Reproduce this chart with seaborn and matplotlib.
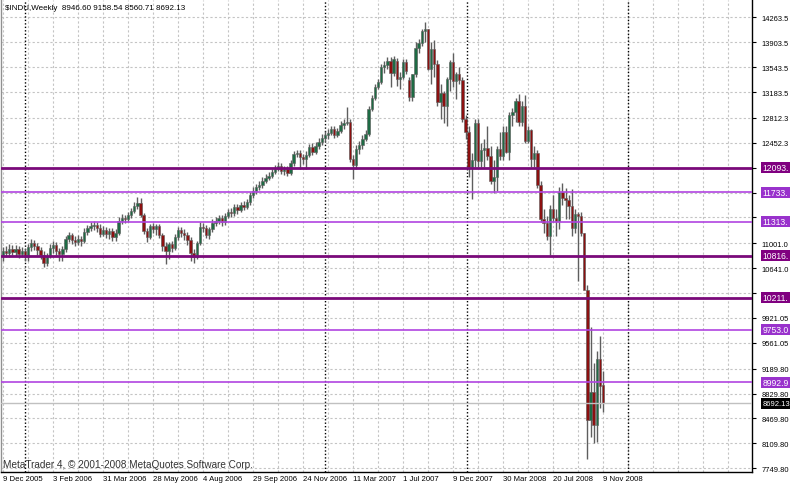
import matplotlib
matplotlib.use("Agg")
import matplotlib.pyplot as plt
from matplotlib.patches import Rectangle
import seaborn as sns
import pandas as pd
import numpy as np

# weekly candles (oldest first)
opens = [10831, 10889, 10860, 10918, 10875, 10918, 10846, 10889, 10803, 10947,
         11005, 10961, 10904, 10831, 10716, 10817, 10932, 10976, 10889, 10846,
         10918, 11062, 11120, 11048, 11019, 11062, 11034, 11163, 11221, 11250,
         11265, 11221, 11135, 11192, 11135, 11178, 11091, 11149, 11322, 11366,
         11351, 11409, 11467, 11539, 11582, 11409, 11178, 11091, 11250, 11207,
         11250, 11120, 10961, 10889, 10990, 10932, 11091, 11192, 11149, 11120,
         11048, 10860, 10803, 11005, 11236, 11221, 11120, 11207, 11293, 11322,
         11366, 11308, 11394, 11452, 11438, 11524, 11481, 11553, 11524, 11597,
         11698, 11756, 11813, 11842, 11900, 11943, 11972, 12030, 12073, 12117,
         12044, 12073, 12015, 12160, 12290, 12304, 12247, 12218, 12275, 12391,
         12319, 12405, 12463, 12521, 12564, 12593, 12651, 12564, 12622, 12709,
         12737, 12752, 12218, 12131, 12362, 12420, 12506, 12579, 12940, 13098,
         13257, 13330, 13546, 13575, 13633, 13459, 13633, 13373, 13402, 13618,
         13358, 13113, 13442, 13820, 13896, 14066, 14093, 13522, 13807, 13595,
         13040, 13176, 12980, 13372, 13625, 13340, 13450, 13365, 12800, 12606,
         12100, 12207, 12743, 12182, 12348, 12381, 12266, 11894, 11951, 12361,
         12262, 12610, 12325, 12850, 12891, 13058, 12745, 12986, 12480, 12638,
         12210, 12307, 11843, 11346, 11288, 11100, 11496, 11370, 11326, 11734,
         11659, 11628, 11543, 11220, 11420, 11388, 11143, 10325, 8451, 8852,
         8378, 9325, 8946.60]
highs = [10947, 10961, 10990, 10976, 10976, 10961, 10947, 10932, 10990, 11062,
         11048, 11005, 10947, 10889, 10860, 10990, 11034, 11019, 10932, 10961,
         11106, 11163, 11149, 11106, 11120, 11106, 11221, 11265, 11308, 11322,
         11308, 11279, 11250, 11236, 11221, 11221, 11207, 11380, 11423, 11409,
         11452, 11510, 11597, 11669, 11654, 11438, 11221, 11279, 11293, 11279,
         11279, 11149, 11019, 11019, 11034, 11135, 11236, 11236, 11207, 11163,
         11091, 10918, 11034, 11308, 11293, 11265, 11236, 11351, 11380, 11409,
         11409, 11438, 11496, 11510, 11568, 11568, 11597, 11611, 11640, 11741,
         11813, 11857, 11900, 11958, 12001, 12030, 12073, 12131, 12174, 12160,
         12117, 12117, 12203, 12333, 12348, 12348, 12290, 12333, 12434, 12449,
         12463, 12521, 12579, 12622, 12651, 12694, 12694, 12665, 12766, 12795,
         12968, 12795, 12275, 12420, 12478, 12564, 12636, 12983, 13142, 13301,
         13373, 13589, 13633, 13690, 13690, 13705, 13676, 13474, 13662, 13662,
         13400, 13450, 13900, 13950, 14100, 14198, 14100, 13900, 13930, 13650,
         13300, 13200, 13400, 13650, 13750, 13470, 13550, 13400, 12850, 12700,
         12300, 12800, 12800, 12450, 12500, 12700, 12400, 12200, 12400, 12600,
         12700, 12700, 12900, 12950, 13100, 13150, 13050, 13136, 12700, 12650,
         12400, 12350, 11900, 11500, 11400, 11550, 11700, 11500, 11808, 11867,
         11800, 11700, 11790, 11500, 11450, 11450, 11150, 10400, 9794, 9265,
         9445, 9654, 9158.54]
lows = [10745, 10803, 10803, 10831, 10817, 10788, 10803, 10745, 10745, 10889,
        10904, 10831, 10774, 10658, 10673, 10788, 10860, 10831, 10745, 10745,
        10875, 11019, 10990, 10961, 10976, 10961, 11005, 11120, 11178, 11192,
        11163, 11091, 11106, 11077, 11062, 11034, 11034, 11120, 11279, 11293,
        11308, 11366, 11438, 11496, 11380, 11135, 11019, 11062, 11149, 11120,
        11077, 10889, 10702, 10774, 10875, 10904, 11048, 11091, 11048, 10976,
        10745, 10716, 10774, 10976, 11163, 11077, 11062, 11163, 11250, 11279,
        11250, 11265, 11366, 11380, 11394, 11423, 11452, 11481, 11496, 11553,
        11654, 11712, 11770, 11799, 11871, 11914, 11943, 12001, 12044, 12001,
        11986, 11972, 11986, 12117, 12247, 12073, 12145, 12073, 12247, 12275,
        12290, 12362, 12420, 12478, 12506, 12564, 12521, 12535, 12593, 12651,
        12709, 12174, 11929, 12073, 12290, 12362, 12478, 12550, 12911, 13069,
        13228, 13301, 13459, 13517, 13257, 13416, 13272, 13228, 13373, 13445,
        13050, 13050, 13400, 13750, 13850, 13900, 13500, 13300, 13400, 12987,
        12800, 12743, 12700, 13200, 13250, 13077, 13300, 12750, 12500, 11950,
        11635, 12100, 12100, 12100, 12100, 12200, 11850, 11731, 11750, 12200,
        12200, 12300, 12200, 12700, 12750, 12700, 12700, 12450, 12450, 12100,
        12100, 11800, 11300, 11150, 11050, 10827, 11300, 11100, 11200, 11550,
        11350, 11350, 11100, 11150, 10460, 11100, 10365, 7882, 8197, 8113,
        8131, 8626, 8560.71]
closes = [10889, 10860, 10918, 10875, 10918, 10846, 10889, 10803, 10947, 11005,
          10961, 10904, 10831, 10716, 10817, 10932, 10976, 10889, 10846, 10918,
          11062, 11120, 11048, 11019, 11062, 11034, 11163, 11221, 11250, 11265,
          11221, 11135, 11192, 11135, 11178, 11091, 11149, 11322, 11366, 11351,
          11409, 11467, 11539, 11582, 11409, 11178, 11091, 11250, 11207, 11250,
          11120, 10961, 10889, 10990, 10932, 11091, 11192, 11149, 11120, 11048,
          10860, 10803, 11005, 11236, 11221, 11120, 11207, 11293, 11322, 11366,
          11308, 11394, 11452, 11438, 11524, 11481, 11553, 11524, 11597, 11698,
          11756, 11813, 11842, 11900, 11943, 11972, 12030, 12073, 12117, 12044,
          12073, 12015, 12160, 12290, 12304, 12247, 12218, 12275, 12391, 12319,
          12405, 12463, 12521, 12564, 12593, 12651, 12564, 12622, 12709, 12737,
          12752, 12218, 12131, 12362, 12420, 12506, 12579, 12940, 13098, 13257,
          13330, 13546, 13575, 13633, 13459, 13662, 13373, 13402, 13618, 13488,
          13113, 13442, 13820, 13896, 14066, 14093, 13522, 13807, 13595, 13040,
          13176, 12980, 13372, 13625, 13340, 13450, 13365, 12800, 12606, 12100,
          12207, 12743, 12182, 12348, 12381, 12266, 11894, 11951, 12361, 12262,
          12610, 12325, 12850, 12891, 13058, 12745, 12986, 12480, 12638, 12210,
          12307, 11843, 11346, 11288, 11100, 11496, 11370, 11326, 11734, 11659,
          11628, 11543, 11220, 11420, 11388, 11143, 10325, 8451, 8852, 8378,
          9325, 8943, 8692.13]

date_bars = [0, 16, 32, 48, 64, 80, 96, 112, 128, 144, 160, 176, 192]
date_labels = ["9 Dec 2005", "3 Feb 2006", "31 Mar 2006", "28 May 2006", "4 Aug 2006",
               "29 Sep 2006", "24 Nov 2006", "11 Mar 2007", "1 Jul 2007", "9 Dec 2007",
               "30 Mar 2008", "20 Jul 2008", "9 Nov 2008"]
price_ticks = [14263.5, 13903.5, 13543.5, 13183.5, 12812.3, 12452.3, 12092.3, 11732.3,
               11372.3, 11001.0, 10641.0, 10281.0, 9921.05, 9561.05, 9189.80, 8829.80,
               8469.80, 8109.80, 7749.80]
# the labels of 12092.3 and 11732.3 sit fully under the level boxes
tick_text = ["14263.5", "13903.5", "13543.5", "13183.5", "12812.3", "12452.3", "",
             "", "11372.3", "11001.0", "10641.0", "10281.0", "9921.05", "9561.05",
             "9189.80", "8829.80", "8469.80", "8109.80", "7749.80"]

# horizontal levels drawn on the chart (labels cut by the window edge)
level_values = [12093.5, 11733.4, 11313.7, 10816.9, 10211.4, 9753.0, 8992.9]
level_text = ["12093.", "11733.", "11313.", "10816.", "10211.", "9753.0", "8992.9"]
level_dark = [True, False, False, True, True, False, False]
last_price = 8692.13

# dotted vertical lines (bar positions)
separator_bars = [7, 103, 148.5, 200]

df = pd.DataFrame({"open": opens, "high": highs, "low": lows, "close": closes})
df["bar"] = np.arange(len(df))
df["up"] = df["close"] >= df["open"]

sns.set_style("white")
plt.rcParams['font.family'] = ['Liberation Sans', 'DejaVu Sans']

fig = plt.figure(figsize=(7.9, 4.85), dpi=100)
ax = fig.add_axes([1 / 790, 12 / 485, 751 / 790, 472 / 485])

wick = "#5e5e5e"
green = "#1e6b44"
red = "#8c1010"
grid_c = "#c4c4c4"

# grid
for b in range(0, 240, 8):
    ax.axvline(b, color=grid_c, lw=0.8, ls=(0, (2, 2)), zorder=0)
for p in price_ticks:
    ax.axhline(p, color=grid_c, lw=0.8, ls=(0, (2, 2)), zorder=0)

for b in separator_bars:
    ax.axvline(b, color="black", lw=1.0, ls=(0, (1, 1.5)), zorder=1)

# candles
ax.vlines(df["bar"], df["low"], df["high"], color=wick, lw=1.0, zorder=3)
for up, col in [(True, green), (False, red)]:
    d = df[df["up"] == up]
    height = np.maximum((d["close"] - d["open"]).abs(), 10)
    ax.bar(d["bar"], height, bottom=np.minimum(d["open"], d["close"]), width=0.75,
           color=col, edgecolor=wick, linewidth=0.4, zorder=4)

# level lines with their price boxes on the axis
ybox = ax.get_yaxis_transform()
box_h = 160


def price_box(v, txt, fc, size):
    ax.add_patch(Rectangle((1.012, v - box_h / 2), 0.06, box_h, transform=ybox,
                           fc=fc, ec="none", clip_on=False, zorder=9))
    ax.text(1.0135, v, txt, transform=ybox, va="center", ha="left",
            color="white", fontsize=size, zorder=10, clip_on=False)


for v, txt, dark in zip(level_values, level_text, level_dark):
    line_c = "#7a0a7a" if dark else "#b044e0"
    box_c = "#800080" if dark else "#9932cc"
    ax.axhline(v, color=line_c, lw=2.0 if dark else 1.2, zorder=5)
    price_box(v, txt, box_c, 6.2)
ax.axhline(last_price, color="#c0c0c0", lw=1.0, zorder=5)
price_box(last_price, "8692.13", "black", 5.5)

ax.set_xlim(-0.64, 239.68)
ax.set_ylim(7696.3, 14513.4)

ax.yaxis.tick_right()
ax.set_yticks(price_ticks, tick_text)
ax.set_xticks(date_bars, date_labels)
plt.setp(ax.get_xticklabels(), ha="left")
ax.tick_params(axis="y", length=3, pad=4, labelsize=5.4, colors="black", direction="out")
ax.tick_params(axis="x", length=2, pad=0, labelsize=5.6, colors="black", direction="out")
ax.tick_params(axis="both", width=0.8)
ax.grid(False)

ax.spines["top"].set_visible(False)
ax.spines["left"].set_color("#909090")
ax.spines["right"].set_color("black")
ax.spines["bottom"].set_color("black")
for s in ["left", "right", "bottom"]:
    ax.spines[s].set_linewidth(1.0)

fig.text(5 / 790, 1 - 8 / 485, r"\$INDU,Weekly  8946.60 9158.54 8560.71 8692.13",
         fontsize=5.8, va="center", ha="left", color="black")
fig.text(3 / 790, 1 - 465 / 485, "MetaTrader 4, © 2001-2008 MetaQuotes Software Corp.",
         fontsize=7.2, va="center", ha="left", color="#333333")

fig.savefig("out.png", dpi=100)
